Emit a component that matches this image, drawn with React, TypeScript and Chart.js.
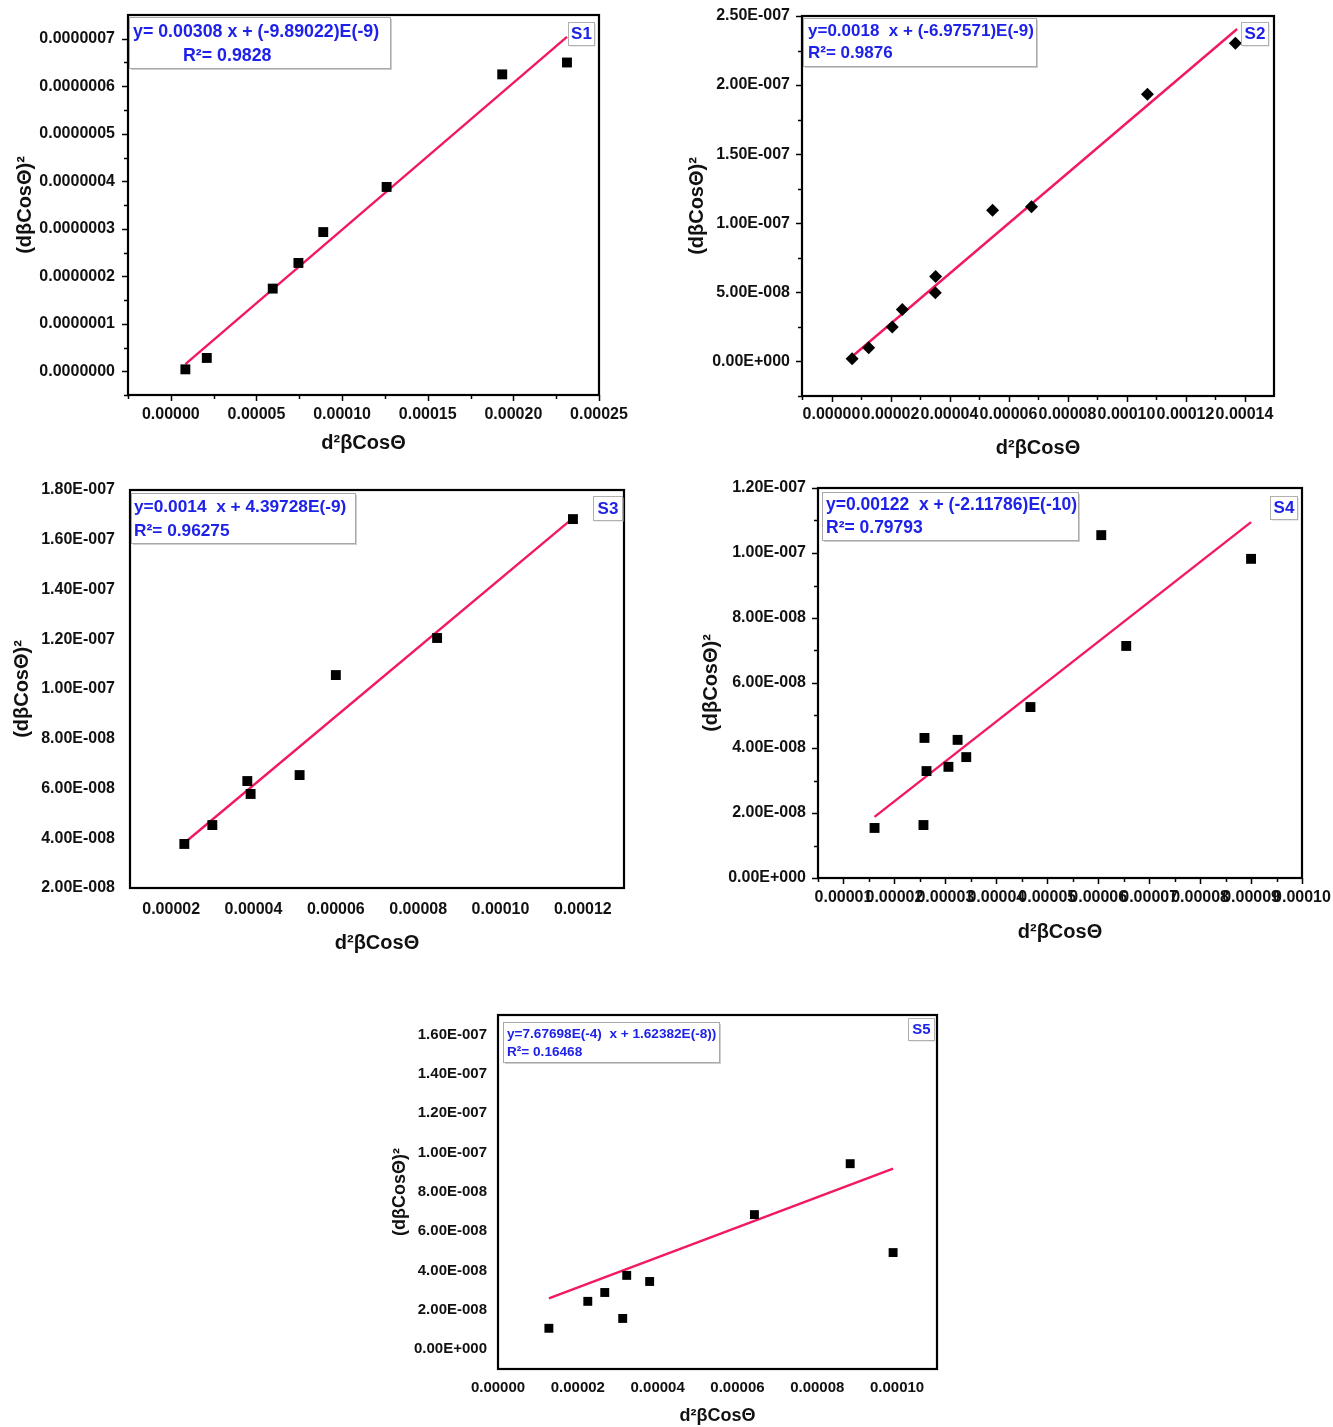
import React, { useEffect, useRef } from 'react';
import { Chart, registerables } from 'chart.js';

Chart.register(...registerables);

// ---------------- data ----------------
// S1
const s1X = [0.0000085, 0.000021, 0.0000595, 0.0000745, 0.000089, 0.000126, 0.0001935, 0.0002313];
const s1Y = [4e-9, 2.8e-8, 1.74e-7, 2.28e-7, 2.93e-7, 3.88e-7, 6.25e-7, 6.5e-7];
const s1FitX = [0.0000085, 0.0002313];
const s1FitY = [1.5e-8, 7.04e-7];
const s1XTicks = [0, 0.00005, 0.0001, 0.00015, 0.0002, 0.00025];
const s1XMinor = [-0.000025, 0.000025, 0.000075, 0.000125, 0.000175, 0.000225];
const s1YTicks = [0, 1e-7, 2e-7, 3e-7, 4e-7, 5e-7, 6e-7, 7e-7];
const s1YMinor = [-0.5e-7, 0.5e-7, 1.5e-7, 2.5e-7, 3.5e-7, 4.5e-7, 5.5e-7, 6.5e-7];
const s1Eq = 'y= 0.00308 x + (-9.89022)E(-9)';
const s1R2 = 'R²= 0.9828';

// S2
const s2X = [0.0000070, 0.0000126, 0.0000206, 0.0000240, 0.0000352, 0.0000353, 0.0000546, 0.0000678, 0.0001071, 0.0001369];
const s2Y = [2e-9, 1.0e-8, 2.5e-8, 3.76e-8, 4.98e-8, 6.15e-8, 1.094e-7, 1.12e-7, 1.934e-7, 2.302e-7];
const s2FitX = [0.0000070, 0.0001375];
const s2FitY = [3.6e-9, 2.406e-7];
const s2XTicks = [0, 0.00002, 0.00004, 0.00006, 0.00008, 0.0001, 0.00012, 0.00014];
const s2XMinor = [-0.00001, 0.00001, 0.00003, 0.00005, 0.00007, 0.00009, 0.00011, 0.00013];
const s2YTicks = [0, 5e-8, 1e-7, 1.5e-7, 2e-7, 2.5e-7];
const s2YMinor = [-2.5e-8, 2.5e-8, 7.5e-8, 1.25e-7, 1.75e-7, 2.25e-7];
const s2Eq = 'y=0.0018  x + (-6.97571)E(-9)';
const s2R2 = 'R²= 0.9876';

// S3
const s3X = [0.0000232, 0.00003, 0.0000385, 0.0000393, 0.0000512, 0.00006, 0.0000846, 0.0001176];
const s3Y = [3.77e-8, 4.53e-8, 6.3e-8, 5.78e-8, 6.54e-8, 1.056e-7, 1.205e-7, 1.683e-7];
const s3FitX = [0.0000232, 0.0001176];
const s3FitY = [3.81e-8, 1.687e-7];
const s3XTicks = [0.00002, 0.00004, 0.00006, 0.00008, 0.0001, 0.00012];
const s3YTicks = [2e-8, 4e-8, 6e-8, 8e-8, 1e-7, 1.2e-7, 1.4e-7, 1.6e-7, 1.8e-7];
const s3Eq = 'y=0.0014  x + 4.39728E(-9)';
const s3R2 = 'R²= 0.96275';

// S4
const s4X = [0.0000161, 0.0000257, 0.0000259, 0.0000263, 0.0000306, 0.0000324, 0.0000341, 0.0000467, 0.0000606, 0.0000655, 0.00009];
const s4Y = [1.54e-8, 1.63e-8, 4.31e-8, 3.29e-8, 3.42e-8, 4.25e-8, 3.72e-8, 5.26e-8, 1.055e-7, 7.14e-8, 9.82e-8];
const s4FitX = [0.0000161, 0.00009];
const s4FitY = [1.88e-8, 1.095e-7];
const s4XTicks = [0.00001, 0.00002, 0.00003, 0.00004, 0.00005, 0.00006, 0.00007, 0.00008, 0.00009, 0.0001];
const s4XMinor = [0.000005, 0.000015, 0.000025, 0.000035, 0.000045, 0.000055, 0.000065, 0.000075, 0.000085, 0.000095];
const s4YTicks = [0, 2e-8, 4e-8, 6e-8, 8e-8, 1e-7, 1.2e-7];
const s4YMinor = [1e-8, 3e-8, 5e-8, 7e-8, 9e-8, 1.1e-7];
const s4Eq = 'y=0.00122  x + (-2.11786)E(-10)';
const s4R2 = 'R²= 0.79793';

// S5
const s5X = [0.00001275, 0.0000225, 0.00002675, 0.00003125, 0.00003225, 0.000038, 0.00006425, 0.00008825, 0.000099];
const s5Y = [1.07e-8, 2.44e-8, 2.89e-8, 1.57e-8, 3.76e-8, 3.45e-8, 6.85e-8, 9.44e-8, 4.92e-8];
const s5FitX = [0.00001275, 0.000099];
const s5FitY = [2.59e-8, 9.19e-8];
const s5XTicks = [0, 0.00002, 0.00004, 0.00006, 0.00008, 0.0001];
const s5YTicks = [0, 2e-8, 4e-8, 6e-8, 8e-8, 1e-7, 1.2e-7, 1.4e-7, 1.6e-7];
const s5Eq = 'y=7.67698E(-4)  x + 1.62382E(-8))';
const s5R2 = 'R²= 0.16468';

const xTitle = 'd²βCosΘ';
const yTitle = '(dβCosΘ)²';

// ---------------- styles ----------------
const FONT = '"Liberation Sans", Arial, Helvetica, sans-serif';
const PINK = '#f2195f';
const BLUE = '#1e22e8';
const INK = '#111111';

const fix = (d: number) => (v: number) => Number(v).toFixed(d);
const fmtE = (v: number) => {
  if (Math.abs(v) < 1e-20) return '0.00E+000';
  const [m, e] = Number(v).toExponential(2).split('e');
  const n = parseInt(e, 10);
  return m + 'E' + (n < 0 ? '-' : '+') + String(Math.abs(n)).padStart(3, '0');
};

type Panel = {
  key: string;
  canvas: [number, number, number, number];
  area: [number, number, number, number];
  xMin: number; xMax: number; yMin: number; yMax: number;
  xTicks: number[]; yTicks: number[]; xMinor: number[]; yMinor: number[];
  tickMarks: boolean;
  xFmt: (v: number) => string; yFmt: (v: number) => string;
  tickSize: number; titleSize: number;
  xLabelPad: number; yLabelPad: number; xTitlePad: number; yTitlePad: number;
  xs: number[]; ys: number[]; fx: number[]; fy: number[];
  marker: string; radius: number;
  legend: { box: [number, number, number, number]; size: number; lines: [string, number, number][] };
  tag: { text: string; box: [number, number, number, number]; size: number };
};

const panels: Panel[] = [
  {
    key: 'S1', canvas: [0, 0, 650, 470], area: [128, 15, 599, 395],
    xMin: -0.000025, xMax: 0.00025, yMin: -0.5e-7, yMax: 7.5e-7,
    xTicks: s1XTicks, yTicks: s1YTicks, xMinor: s1XMinor, yMinor: s1YMinor, tickMarks: true,
    xFmt: fix(5), yFmt: fix(7), tickSize: 16, titleSize: 20,
    xLabelPad: 10, yLabelPad: 13, xTitlePad: 15, yTitlePad: 13,
    xs: s1X, ys: s1Y, fx: s1FitX, fy: s1FitY, marker: 'rect', radius: 7,
    legend: { box: [1, 2, 261, 51], size: 17.8, lines: [[s1Eq, 5, 17], [s1R2, 55, 41]] },
    tag: { text: 'S1', box: [440, 7, 26, 23], size: 17 },
  },
  {
    key: 'S2', canvas: [670, 0, 663, 470], area: [802, 16, 1274, 396],
    xMin: -0.00001, xMax: 0.00015, yMin: -2.5e-8, yMax: 2.5e-7,
    xTicks: s2XTicks, yTicks: s2YTicks, xMinor: s2XMinor, yMinor: s2YMinor, tickMarks: true,
    xFmt: fix(5), yFmt: fmtE, tickSize: 16, titleSize: 20,
    xLabelPad: 9, yLabelPad: 12, xTitlePad: 10, yTitlePad: 15,
    xs: s2X, ys: s2Y, fx: s2FitX, fy: s2FitY, marker: 'rectRot', radius: 6.5,
    legend: { box: [1, 2, 233, 48], size: 17, lines: [[s2Eq, 6, 15], [s2R2, 6, 37]] },
    tag: { text: 'S2', box: [439, 6, 27, 23], size: 17 },
  },
  {
    key: 'S3', canvas: [0, 470, 660, 490], area: [130, 490, 624, 888],
    xMin: 0.00001, xMax: 0.00013, yMin: 2e-8, yMax: 1.8e-7,
    xTicks: s3XTicks, yTicks: s3YTicks, xMinor: [], yMinor: [], tickMarks: false,
    xFmt: fix(5), yFmt: fmtE, tickSize: 16, titleSize: 20,
    xLabelPad: 12, yLabelPad: 15, xTitlePad: 5, yTitlePad: 10,
    xs: s3X, ys: s3Y, fx: s3FitX, fy: s3FitY, marker: 'rect', radius: 7,
    legend: { box: [1, 3, 224, 50], size: 17.3, lines: [[s3Eq, 4, 17], [s3R2, 4, 41]] },
    tag: { text: 'S3', box: [463, 6, 29, 24], size: 17 },
  },
  {
    key: 'S4', canvas: [670, 470, 663, 480], area: [818, 488, 1302, 878],
    xMin: 0.000005, xMax: 0.0001, yMin: 0, yMax: 1.2e-7,
    xTicks: s4XTicks, yTicks: s4YTicks, xMinor: s4XMinor, yMinor: s4YMinor, tickMarks: true,
    xFmt: fix(5), yFmt: fmtE, tickSize: 16, titleSize: 20,
    xLabelPad: 10, yLabelPad: 12, xTitlePad: 6, yTitlePad: 29,
    xs: s4X, ys: s4Y, fx: s4FitX, fy: s4FitY, marker: 'rect', radius: 7,
    legend: { box: [4, 4, 256, 48], size: 17.5, lines: [[s4Eq, 8, 17], [s4R2, 8, 40]] },
    tag: { text: 'S4', box: [452, 8, 27, 23], size: 17 },
  },
  {
    key: 'S5', canvas: [380, 1000, 580, 427], area: [498, 1015, 937, 1369],
    xMin: 0, xMax: 0.00011, yMin: -1e-8, yMax: 1.7e-7,
    xTicks: s5XTicks, yTicks: s5YTicks, xMinor: [], yMinor: [], tickMarks: false,
    xFmt: fix(5), yFmt: fmtE, tickSize: 15, titleSize: 18,
    xLabelPad: 10, yLabelPad: 11, xTitlePad: 0, yTitlePad: 9,
    xs: s5X, ys: s5Y, fx: s5FitX, fy: s5FitY, marker: 'rect', radius: 6.3,
    legend: { box: [5, 7, 216, 40], size: 13.6, lines: [[s5Eq, 9, 19], [s5R2, 9, 37]] },
    tag: { text: 'S5', box: [410, 3, 26, 22], size: 15 },
  },
];

function makeDecor(p: Panel) {
  return {
    id: 'decor' + p.key,
    afterDraw(chart: any) {
      const { ctx, chartArea: a, scales } = chart;
      ctx.save();
      ctx.strokeStyle = '#000';
      ctx.lineCap = 'butt';
      if (p.tickMarks) {
        ctx.lineWidth = 1.5;
        const xt = (vals: number[], len: number) => vals.forEach((v) => {
          const px = Math.round(scales.x.getPixelForValue(v)) + 0.5;
          if (px < a.left - 1 || px > a.right + 1) return;
          ctx.beginPath(); ctx.moveTo(px, a.bottom); ctx.lineTo(px, a.bottom + len); ctx.stroke();
        });
        const yt = (vals: number[], len: number) => vals.forEach((v) => {
          const py = Math.round(scales.y.getPixelForValue(v)) + 0.5;
          if (py < a.top - 1 || py > a.bottom + 1) return;
          ctx.beginPath(); ctx.moveTo(a.left, py); ctx.lineTo(a.left - len, py); ctx.stroke();
        });
        xt(p.xTicks, 6); xt(p.xMinor, 4);
        yt(p.yTicks, 6); yt(p.yMinor, 4);
      }
      // frame
      ctx.lineWidth = 2.2;
      ctx.strokeRect(a.left, a.top, a.right - a.left, a.bottom - a.top);
      // legend box
      const [bx, by, bw, bh] = p.legend.box;
      const X = a.left + bx, Y = a.top + by;
      ctx.fillStyle = '#cfcfcf';
      ctx.fillRect(X + 2, Y + 2, bw, bh);
      ctx.fillStyle = '#ffffff';
      ctx.fillRect(X, Y, bw, bh);
      ctx.lineWidth = 1;
      ctx.strokeStyle = '#a8a8a8';
      ctx.strokeRect(X + 0.5, Y + 0.5, bw, bh);
      ctx.fillStyle = BLUE;
      ctx.textBaseline = 'middle';
      ctx.textAlign = 'left';
      ctx.font = `bold ${p.legend.size}px ${FONT}`;
      p.legend.lines.forEach(([t, dx, dy]) => ctx.fillText(t, a.left + dx, a.top + dy));
      // tag
      const [tx, ty, tw, th] = p.tag.box;
      const TX = a.left + tx, TY = a.top + ty;
      ctx.fillStyle = '#d6d6d6';
      ctx.fillRect(TX + 1.5, TY + 1.5, tw, th);
      ctx.fillStyle = '#ffffff';
      ctx.fillRect(TX, TY, tw, th);
      ctx.strokeStyle = '#b0b0b0';
      ctx.strokeRect(TX + 0.5, TY + 0.5, tw, th);
      ctx.fillStyle = BLUE;
      ctx.textAlign = 'center';
      ctx.font = `bold ${p.tag.size}px ${FONT}`;
      ctx.fillText(p.tag.text, TX + tw / 2 + 0.5, TY + th / 2 + 1);
      ctx.restore();
    },
  };
}

function PanelChart({ p }: { p: Panel }) {
  const ref = useRef<HTMLCanvasElement | null>(null);
  useEffect(() => {
    if (!ref.current) return;
    const [cx, cy, cw, ch] = p.canvas;
    const [l, t, r, b] = p.area;
    const tickFont = { family: FONT, size: p.tickSize, weight: 'bold' as const };
    const titleFont = { family: FONT, size: p.titleSize, weight: 'bold' as const };
    const chart = new Chart(ref.current, {
      type: 'scatter',
      data: {
        datasets: [
          {
            data: p.xs.map((x, i) => ({ x, y: p.ys[i] })),
            pointStyle: p.marker as any,
            pointRadius: p.radius,
            pointHoverRadius: p.radius,
            pointBackgroundColor: '#000',
            pointBorderColor: '#000',
            pointBorderWidth: 0,
            showLine: false,
          },
          {
            data: p.fx.map((x, i) => ({ x, y: p.fy[i] })),
            showLine: true,
            borderColor: PINK,
            borderWidth: 2.4,
            pointRadius: 0,
            fill: false,
          },
        ],
      },
      options: {
        responsive: false,
        animation: false,
        devicePixelRatio: 1,
        events: [],
        layout: { padding: { left: 0, top: t - cy, right: cx + cw - r, bottom: 0 } },
        plugins: { legend: { display: false }, tooltip: { enabled: false } },
        scales: {
          x: {
            type: 'linear',
            position: 'bottom',
            min: p.xMin,
            max: p.xMax,
            afterBuildTicks: (s: any) => { s.ticks = p.xTicks.map((v) => ({ value: v })); },
            afterFit: (s: any) => { s.height = cy + ch - b; s.paddingLeft = 0; s.paddingRight = 0; },
            grid: { display: false, drawTicks: false },
            border: { display: false },
            ticks: {
              autoSkip: false, maxRotation: 0, minRotation: 0,
              padding: p.xLabelPad, color: INK, font: tickFont,
              callback: (v: any) => p.xFmt(Number(v)),
            },
            title: { display: true, text: xTitle, color: INK, font: titleFont, padding: { top: 0, bottom: p.xTitlePad } },
          },
          y: {
            type: 'linear',
            position: 'left',
            min: p.yMin,
            max: p.yMax,
            afterBuildTicks: (s: any) => { s.ticks = p.yTicks.map((v) => ({ value: v })); },
            afterFit: (s: any) => { s.width = l - cx; s.paddingTop = 0; s.paddingBottom = 0; },
            grid: { display: false, drawTicks: false },
            border: { display: false },
            ticks: {
              autoSkip: false,
              padding: p.yLabelPad, color: INK, font: tickFont,
              callback: (v: any) => p.yFmt(Number(v)),
            },
            title: { display: true, text: yTitle, color: INK, font: titleFont, padding: { top: p.yTitlePad, bottom: 0 } },
          },
        },
      } as any,
      plugins: [makeDecor(p)],
    });
    return () => chart.destroy();
  }, [p]);
  const [cx, cy, cw, ch] = p.canvas;
  return (
    <canvas
      ref={ref}
      width={cw}
      height={ch}
      style={{ position: 'absolute', left: cx, top: cy, width: cw, height: ch }}
    />
  );
}

export default function App() {
  return (
    <div style={{ position: 'absolute', left: 0, top: 0, width: 1333, height: 1427, background: '#fff', overflow: 'hidden' }}>
      {panels.map((p) => (
        <PanelChart key={p.key} p={p} />
      ))}
    </div>
  );
}
